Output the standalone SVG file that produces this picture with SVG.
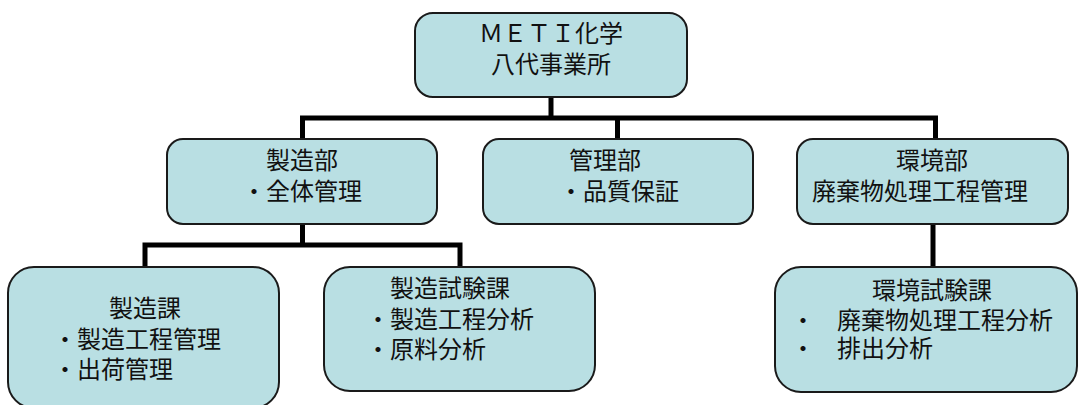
<svg xmlns="http://www.w3.org/2000/svg" width="1079" height="405" viewBox="0 0 1079 405">
<style>
.box{fill:#B9DFE3;stroke:#1a1a1a;stroke-width:2}
.t{font-family:"Noto Sans CJK JP","Noto Sans CJK SC",sans-serif;font-size:24px;fill:#111}
.c{text-anchor:middle}
.conn{fill:none;stroke:#000;stroke-width:5;stroke-linejoin:miter;stroke-linecap:butt}
</style>
<rect width="1079" height="405" fill="#fff"/>
<g id="connectors">
<path class="conn" d="M551,97 V118"/>
<path class="conn" d="M302.5,139 V118 H935.5 V139"/>
<path class="conn" d="M617.5,118 V139"/>
<path class="conn" d="M302.5,224 V245"/>
<path class="conn" d="M145,267 V245 H460 V267"/>
<path class="conn" d="M933,224 V267"/>
</g>
<g id="n_top">
<rect class="box" x="415" y="13" width="272" height="84" rx="18"/>
<text class="t c" x="551" y="42">ＭＥＴＩ化学</text>
<text class="t c" x="551" y="73">八代事業所</text>
</g>
<g id="n_seizobu">
<rect class="box" x="167" y="139" width="270" height="85" rx="16"/>
<text class="t c" x="302" y="169">製造部</text>
<text class="t" x="242" y="200">・全体管理</text>
</g>
<g id="n_kanribu">
<rect class="box" x="483" y="139" width="270" height="85" rx="16"/>
<text class="t" x="569" y="169">管理部</text>
<text class="t" x="559" y="200">・品質保証</text>
</g>
<g id="n_kankyobu">
<rect class="box" x="797" y="139" width="271" height="85" rx="16"/>
<text class="t c" x="932" y="169">環境部</text>
<text class="t" x="812" y="200">廃棄物処理工程管理</text>
</g>
<g id="n_seizoka">
<rect class="box" x="8" y="267" width="271" height="141" rx="26"/>
<text class="t c" x="145" y="317">製造課</text>
<text class="t" x="53" y="348">・製造工程管理</text>
<text class="t" x="53" y="378">・出荷管理</text>
</g>
<g id="n_seizoshiken">
<rect class="box" x="324" y="267" width="271" height="124" rx="26"/>
<text class="t c" x="450" y="297">製造試験課</text>
<text class="t" x="366" y="328">・製造工程分析</text>
<text class="t" x="366" y="358">・原料分析</text>
</g>
<g id="n_kankyoshiken">
<rect class="box" x="775" y="267" width="302" height="125" rx="26"/>
<text class="t c" x="932" y="299">環境試験課</text>
<text class="t" x="791" y="329">・</text>
<text class="t" x="837" y="329">廃棄物処理工程分析</text>
<text class="t" x="791" y="357">・</text>
<text class="t" x="837" y="357">排出分析</text>
</g>
</svg>
